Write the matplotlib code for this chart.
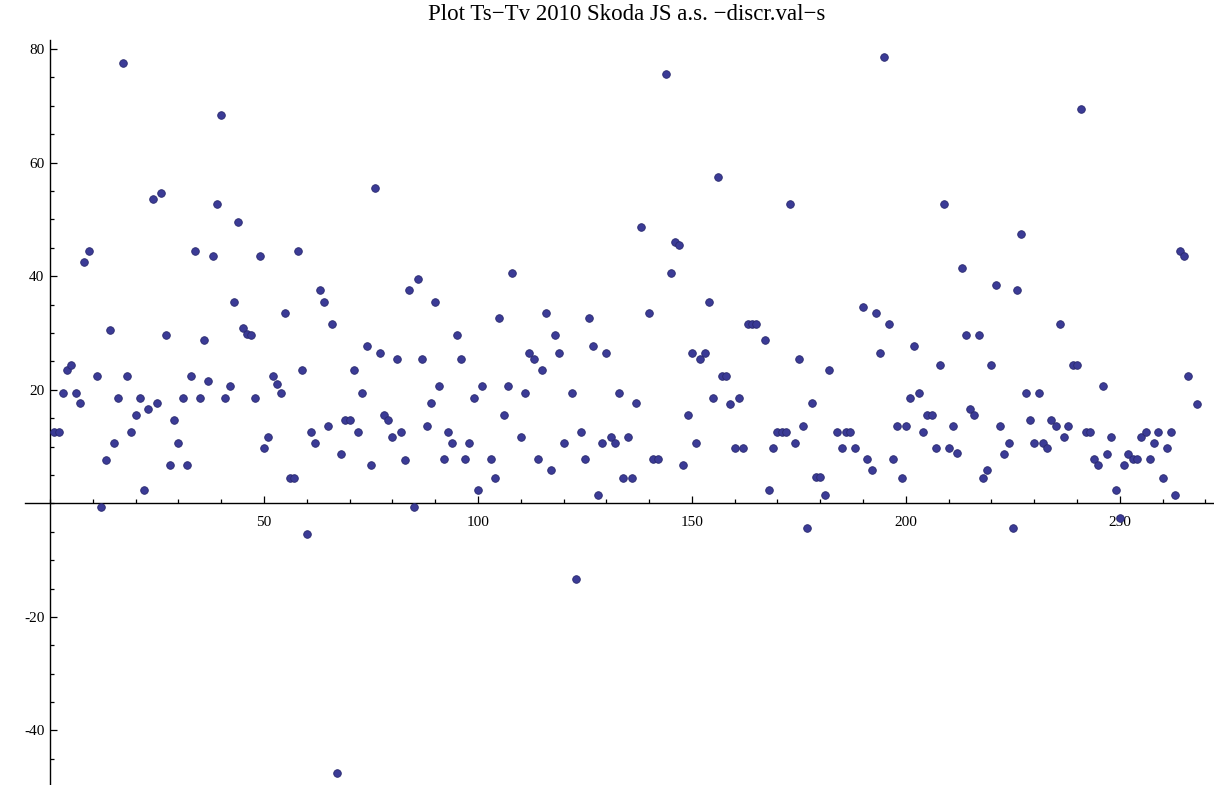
import numpy as np
import matplotlib
matplotlib.use("Agg")
import matplotlib.pyplot as plt
from matplotlib.ticker import FixedLocator, MultipleLocator

plt.rcParams['axes.unicode_minus'] = False

title = "Plot Ts\u2212Tv 2010 Skoda JS a.s. \u2212discr.val\u2212s"

nan = np.nan
# Ts-Tv difference for each record (nan = record without a numeric value)
discr_values = [
    12.6, 12.6, 19.5, 23.5, 24.4, 19.5, 17.6, 42.5, 44.5, nan,    # 1-10
    22.4, -0.6, 7.7, 30.6, 10.6, 18.5, 77.5, 22.4, 12.6, 15.6,    # 11-20
    18.5, 2.4, 16.6, 53.6, 17.6, 54.6, 29.7, 6.8, 14.6, 10.6,     # 21-30
    18.5, 6.8, 22.4, 44.5, 18.5, 28.7, 21.5, 43.5, 52.7, 68.4,    # 31-40
    18.5, 20.6, 35.5, 49.6, 30.8, 29.8, 29.7, 18.5, 43.5, 9.7,    # 41-50
    11.6, 22.4, 21.0, 19.5, 33.6, 4.4, 4.4, 44.5, 23.5, -5.4,     # 51-60
    12.6, 10.6, 37.6, 35.5, 13.6, 31.6, -47.4, 8.7, 14.7, 14.7,   # 61-70
    23.4, 12.6, 19.5, 27.7, 6.8, 55.6, 26.4, 15.6, 14.7, 11.6,    # 71-80
    25.4, 12.6, 7.7, 37.6, -0.6, 39.5, 25.4, 13.6, 17.6, 35.5,    # 81-90
    20.6, 7.8, 12.6, 10.7, 29.7, 25.4, 7.8, 10.7, 18.5, 2.4,      # 91-100
    20.6, nan, 7.8, 4.4, 32.7, 15.6, 20.6, 40.5, nan, 11.6,       # 101-110
    19.5, 26.4, 25.4, 7.8, 23.4, 33.6, 5.8, 29.7, 26.4, 10.7,     # 111-120
    nan, 19.5, -13.3, 12.6, 7.8, 32.7, 27.7, 1.5, 10.7, 26.4,     # 121-130
    11.6, 10.7, 19.5, 4.4, 11.6, 4.4, 17.6, 48.7, nan, 33.6,      # 131-140
    7.8, 7.8, nan, 75.7, 40.5, 46.1, 45.5, 6.8, 15.6, 26.4,       # 141-150
    10.6, 25.4, 26.4, 35.5, 18.5, 57.5, 22.4, 22.4, 17.5, 9.7,    # 151-160
    18.5, 9.7, 31.6, 31.6, 31.6, nan, 28.7, 2.4, 9.7, 12.6,       # 161-170
    12.6, 12.6, 52.7, 10.6, 25.4, 13.6, -4.4, 17.6, 4.6, 4.6,     # 171-180
    1.5, 23.5, nan, 12.6, 9.7, 12.6, 12.6, 9.7, nan, 34.6,        # 181-190
    7.8, 5.8, 33.6, 26.4, 78.6, 31.6, 7.8, 13.6, 4.4, 13.6,       # 191-200
    18.5, 27.7, 19.5, 12.6, 15.6, 15.6, 9.7, 24.4, 52.7, 9.7,     # 201-210
    13.6, 8.8, 41.4, 29.7, 16.6, 15.6, 29.7, 4.4, 5.8, 24.4,      # 211-220
    38.5, 13.6, 8.7, 10.7, -4.4, 37.6, 47.4, 19.5, 14.7, 10.7,    # 221-230
    19.5, 10.7, 9.7, 14.7, 13.6, 31.6, 11.6, 13.6, 24.4, 24.4,    # 231-240
    69.4, 12.6, 12.6, 7.8, 6.8, 20.6, 8.7, 11.6, 2.4, -2.6,       # 241-250
    6.8, 8.7, 7.8, 7.8, 11.6, 12.6, 7.8, 10.7, 12.6, 4.4,         # 251-260
    9.7, 12.6, 1.5, 44.5, 43.5, 22.4, nan, 17.5,                  # 261-268
]

x_major = [50, 100, 150, 200, 250]
y_major = [-40, -20, 20, 40, 60, 80]

records = np.arange(1, len(discr_values) + 1)
values = np.array(discr_values, dtype=float)

W, H = 1214, 785
fig = plt.figure(figsize=(W / 100, H / 100), dpi=100)
ax = fig.add_axes([25 / W, 0, 1 - 25 / W, 1 - 40 / H])

ax.scatter(records, values, s=30, color='#3b3b96', edgecolors='#2a2a6e',
           linewidths=0.6, zorder=3)

ax.set_xlim(-5.84, 272)
ax.set_ylim(-49.6, 81.6)

# axes cross at the origin, no frame
for side in ('top', 'right'):
    ax.spines[side].set_visible(False)
ax.spines['left'].set_position(('data', 0))
ax.spines['bottom'].set_position(('data', 0))
for side in ('left', 'bottom'):
    ax.spines[side].set_linewidth(1.0)
    ax.spines[side].set_color('black')

ax.xaxis.set_major_locator(FixedLocator(x_major))
ax.xaxis.set_minor_locator(MultipleLocator(10))
ax.yaxis.set_major_locator(FixedLocator(y_major))
ax.yaxis.set_minor_locator(MultipleLocator(5))

ax.tick_params(which='both', direction='in', color='black', width=0.9)
ax.tick_params(which='major', length=5)
ax.tick_params(which='minor', length=3)
ax.tick_params(axis='x', which='major', pad=9)
ax.tick_params(axis='y', which='major', pad=4)

for lbl in ax.get_xticklabels() + ax.get_yticklabels():
    lbl.set_fontfamily('Liberation Serif')
    lbl.set_fontsize(11)

fig.text(0.516, 1 - 15 / H, title, ha='center', va='center',
         fontfamily='Liberation Serif', fontsize=16.5)

fig.savefig('out.png', dpi=100)
